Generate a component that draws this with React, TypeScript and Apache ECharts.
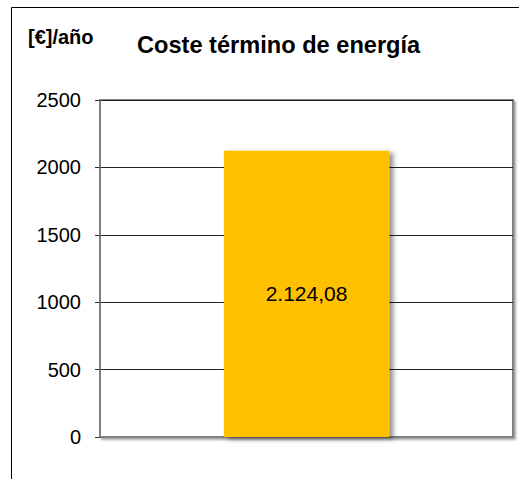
import React, { useEffect, useRef } from "react";
import * as echarts from "echarts";

const categories = ["Coste término de energía"];
const values = [2124.08];
const yTicks = [0, 500, 1000, 1500, 2000, 2500];
const titleText = "Coste término de energía";
const unitText = "[€]/año";

function formatEs(v: number): string {
  const [ip, dp] = v.toFixed(2).split(".");
  const withDots = ip.replace(/\B(?=(\d{3})+(?!\d))/g, ".");
  return withDots + "," + dp;
}

const FONT = "'Liberation Sans', Arial, sans-serif";

export default function App() {
  const ref = useRef<HTMLDivElement>(null);
  useEffect(() => {
    if (!ref.current) return;
    const chart = echarts.init(ref.current, undefined, { renderer: "svg" });
    chart.setOption({
      animation: false,
      backgroundColor: "#ffffff",
      textStyle: { fontFamily: FONT },
      graphic: [
        {
          type: "rect",
          shape: { x: 11.5, y: 7.5, width: 600, height: 600 },
          style: { fill: "none", stroke: "#000000", lineWidth: 1 },
          z: 0,
        },
        {
          type: "text",
          x: 28,
          y: 37,
          style: {
            text: unitText,
            font: "bold 20px " + FONT,
            fill: "#000000",
            verticalAlign: "middle",
          },
        },
        {
          type: "text",
          x: 137,
          y: 45,
          style: {
            text: titleText,
            font: "bold 23.6px " + FONT,
            fill: "#000000",
            verticalAlign: "middle",
          },
        },
      ],
      grid: {
        left: 100,
        right: 6,
        top: 100,
        bottom: 42,
        show: true,
        borderColor: "#808080",
        borderWidth: 2,
        backgroundColor: "#ffffff",
        shadowColor: "rgba(0,0,0,0.35)",
        shadowOffsetX: 2,
        shadowOffsetY: 2,
        shadowBlur: 2,
      },
      xAxis: {
        type: "category",
        data: categories,
        axisLabel: { show: false },
        axisTick: { show: false },
        axisLine: { show: true, lineStyle: { color: "#808080", width: 2 } },
      },
      yAxis: {
        type: "value",
        min: yTicks[0],
        max: yTicks[yTicks.length - 1],
        interval: yTicks[1] - yTicks[0],
        axisLine: { show: true, lineStyle: { color: "#808080", width: 2 } },
        axisTick: { show: true, length: 5, lineStyle: { color: "#333333" } },
        axisLabel: {
          margin: 19,
          color: "#000000",
          fontSize: 20,
          fontFamily: FONT,
          formatter: (v: number) => String(v),
        },
        splitLine: { show: true, lineStyle: { color: "#222222", width: 1 } },
      },
      series: [
        {
          type: "bar",
          data: values,
          barWidth: "40%",
          itemStyle: {
            color: "#FFC000",
            shadowColor: "rgba(0,0,0,0.45)",
            shadowOffsetX: 4,
            shadowOffsetY: 2,
            shadowBlur: 5,
          },
          label: {
            show: true,
            position: "inside",
            color: "#000000",
            fontSize: 21,
            fontFamily: FONT,
            formatter: (p: any) => formatEs(p.value),
          },
        },
      ],
    });
    return () => chart.dispose();
  }, []);
  return (
    <div
      ref={ref}
      style={{ position: "absolute", left: 0, top: 0, width: 519, height: 479 }}
    />
  );
}
